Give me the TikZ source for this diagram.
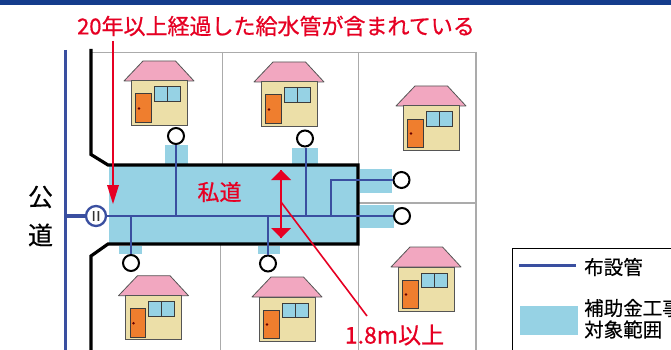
\documentclass[tikz,border=0pt]{standalone}
\usepackage{fontspec}
\setmainfont{Noto Sans CJK JP}
\newfontfamily\heavycjk[FakeBold=0.7]{Noto Sans CJK JP}
\newfontfamily\midcjk[FakeBold=0.3]{Noto Sans CJK JP}
\newfontfamily\meterfont[FakeBold=2.5]{Noto Sans CJK JP}
\definecolor{pipeblue}{HTML}{3A4FA0}
\definecolor{topband}{HTML}{143C8C}
\definecolor{zone}{HTML}{96D2E4}
\definecolor{redmark}{HTML}{E60023}
\definecolor{fence}{HTML}{ABABAB}
\definecolor{roofpink}{HTML}{F2A7C0}
\definecolor{wallcream}{HTML}{ECDFA8}
\definecolor{doororange}{HTML}{EF7E2E}
\definecolor{edgegray}{HTML}{555555}
\tikzset{
  pipe/.style={draw=pipeblue,line width=2pt},
  mainpipe/.style={draw=pipeblue,line width=3.2pt},
  road/.style={draw=black,line width=3.2pt,miter limit=10},
  fenceline/.style={draw=fence,line width=1.2pt},
  zonebox/.style={fill=zone,draw=none},
  tap/.style={circle,draw=black,fill=white,line width=2pt,minimum size=16pt,inner sep=0pt},
  meter/.style={circle,draw=pipeblue,fill=white,line width=2.3pt,minimum size=20pt,inner sep=0pt},
  redlabel/.style={text=redmark,font=\heavycjk\fontsize{22}{24}\selectfont,inner sep=0pt},
  blacklabel/.style={text=black,font=\midcjk\fontsize{19.5}{21}\selectfont,inner sep=0pt},
  redline/.style={draw=redmark,line width=1.6pt},
  house/.pic={
    \draw[fill=roofpink,draw=edgegray,line width=.8pt,line join=round] (0,0) -- (19,-20) -- (51.5,-20) -- (70,0) -- cycle;
    \draw[fill=wallcream,draw=edgegray,line width=1pt] (7,0) rectangle (63,44);
    \draw[fill=doororange,draw=edgegray!70!black,line width=1pt] (11.5,13) rectangle (27,41.5);
    \fill[black!60!red] (15,27.5) circle (1.3pt);
    \draw[fill=zone,draw=edgegray!70!black,line width=1pt] (30,6) rectangle (56,20.5);
    \draw[edgegray!70!black,line width=1pt] (43,6) -- (43,20.5);
  }
}
\begin{document}
\begin{tikzpicture}[x=1pt,y=-1pt]
\useasboundingbox (0,0) rectangle (671,350);
\clip (0,0) rectangle (671,350);
\fill[white] (0,0) rectangle (671,350);
\fill[topband] (0,0) rectangle (671,5);
% fences
\draw[fenceline] (91,52.5) -- (476,52.5);
\draw[fenceline] (476,52) -- (476,350);
\draw[fenceline] (222.5,52) -- (222.5,164);
\draw[fenceline] (358.5,52) -- (358.5,165);
\draw[fenceline] (358,203) -- (476,203);
\draw[fenceline,line width=.9pt] (220,245) -- (220,350);
\draw[fenceline,line width=.9pt] (358,245) -- (358,350);
% houses
\pic at (124,81) {house};
\pic at (254,82) {house};
\pic at (396,106) {house};
\pic at (118.5,295.7) {house};
\pic at (252,297) {house};
\pic at (391,267) {house};
% zones
\fill[zonebox] (109,165) rectangle (358,244);
\fill[zonebox] (165,145) rectangle (188,165);
\fill[zonebox] (292,148) rectangle (318,165);
\fill[zonebox] (360,169) rectangle (392,193);
\fill[zonebox] (360,205) rectangle (394,228);
\fill[zonebox] (119,246) rectangle (142,254);
\fill[zonebox] (258,246) rectangle (280,254);
% road
\draw[road] (91,49) -- (91,154.5) -- (108,165) -- (358,165) -- (358,244) -- (108,244) -- (91,256) -- (91,352);
% pipes
\node[tap] (t1) at (176,136) {};
\node[tap] (t2) at (305,138.5) {};
\node[tap] (t3) at (401.5,180) {};
\node[tap] (t4) at (402,216) {};
\node[tap] (t5) at (131,263) {};
\node[tap] (t6) at (268,263.5) {};
\node[meter] (m) at (96,216) {};
\coordinate (mainTop) at (65.5,50);
\coordinate (mainBot) at (65.5,352);
\coordinate (mainJ) at (65.5,216);
\coordinate (j1) at (176,216);
\coordinate (j2) at (306,216);
\coordinate (j3) at (131,216);
\coordinate (j4) at (268,216);
\coordinate (j5) at (331,216);
\draw[mainpipe] (mainTop) -- (mainBot);
\draw[mainpipe] (mainJ) -- (m);
\draw[pipe] (m) -- (t4);
\draw[pipe] (t1) -- (j1);
\draw[pipe] (t2.south -| j2) -- (j2);
\draw[pipe] (t5) -- (j3);
\draw[pipe] (t6) -- (j4);
\draw[pipe] (j5) |- (t3);
\node[font=\meterfont\fontsize{13}{13}\selectfont,text=black!80,inner sep=0pt] (mlabel) at (96,216) {I\kern1pt I};
% red marks
\coordinate (a0) at (113,41);
\coordinate (a1) at (113,204);
\coordinate (b0) at (281,170);
\coordinate (b1) at (281,238);
\coordinate (c0) at (281,202);
\coordinate (c1) at (367,316);
\draw[redline] (a0) -- (113,190);
\fill[redmark] (107,185) -- (119,185) -- (a1) -- cycle;
\draw[redline] (b0) -- (b1);
\fill[redmark] (271,180) -- (291,180) -- (b0) -- cycle;
\fill[redmark] (271,228) -- (291,228) -- (b1) -- cycle;
\draw[redline] (c0) -- (c1);
% texts
\node[redlabel] (title) at (276,26) {20年以上経過した給水管が含まれている};
\node[redlabel] (sido) at (219.5,192) {私道};
\node[redlabel,font=\heavycjk\fontsize{23}{25}\selectfont] (width) at (394.5,335) {1.8m以上};
\node[blacklabel,font=\midcjk\fontsize{25}{25}\selectfont] (k1) at (40.5,197) {公};
\node[blacklabel,font=\midcjk\fontsize{25}{25}\selectfont] (k2) at (40.5,235) {道};
% legend
\draw[black,line width=1pt] (512.5,248) rectangle (690,370);
\draw[mainpipe] (519,265.5) -- (576,265.5);
\fill[zonebox] (520,306) rectangle (578,335);
\node[blacklabel,anchor=west] (l1) at (584,267) {布設管};
\node[blacklabel,anchor=west] (l2) at (584,308) {補助金工事};
\node[blacklabel,anchor=west] (l3) at (584,329.5) {対象範囲};
\end{tikzpicture}
\end{document}
